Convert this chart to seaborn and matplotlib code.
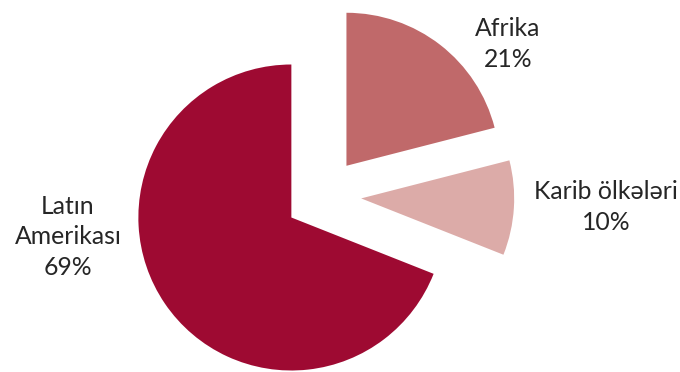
import matplotlib
matplotlib.use("Agg")
import matplotlib.pyplot as plt
import seaborn as sns

sns.set_theme(style="white")
plt.rcParams['font.family'] = ['Lato', 'DejaVu Sans']

# Data
regions = ["Latın\nAmerikası", "Karib ölkələri", "Afrika"]
shares = [69, 10, 21]

colors = ["#9E0A32", "#DCABA8", "#C0696A"]
explode = [0.25, 0.25, 0.25]
# label block centres (axes fraction)
label_pos = [(68 / 680, 1 - 237 / 372), (606 / 680, 1 - 207 / 372), (508 / 680, 1 - 44 / 372)]

fig = plt.figure(figsize=(6.8, 3.72), dpi=100)
ax = fig.add_axes([0, 0, 1, 1])
ax.pie(shares, colors=colors, explode=explode, startangle=90, counterclock=True,
       radius=1.0, wedgeprops=dict(linewidth=0))
ax.set_aspect('auto')
cx, cy, r = 323, 196, 153
ax.set_xlim(-cx / r, (680 - cx) / r)
ax.set_ylim(-(372 - cy) / r, cy / r)
ax.axis('off')

for name, val, (px, py) in zip(regions, shares, label_pos):
    ax.text(px, py, f"{name}\n{val}%", transform=ax.transAxes, ha='center', va='center',
            fontsize=17.8, color='#262626', linespacing=1.38)

fig.savefig("out.png", dpi=100)
